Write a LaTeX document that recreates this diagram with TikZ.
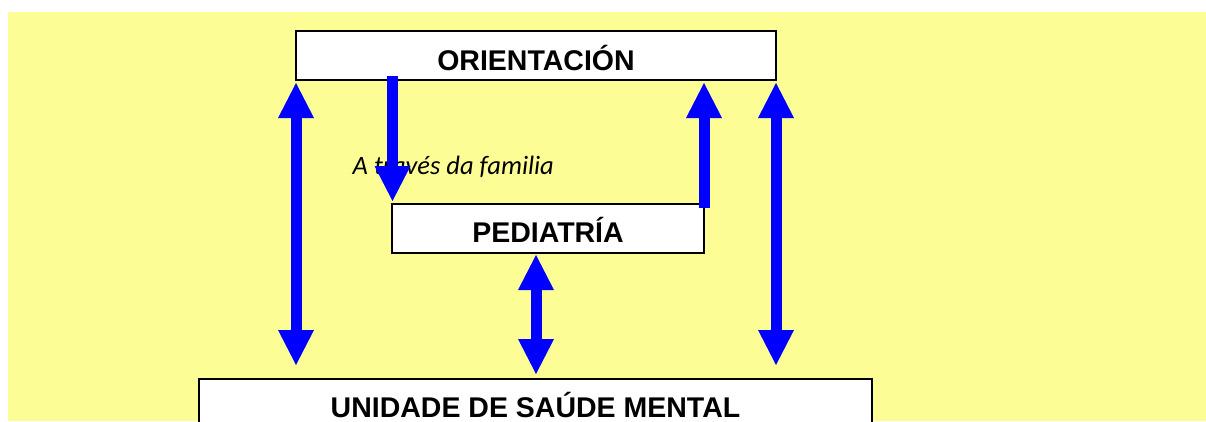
\documentclass[tikz,border=0pt]{standalone}
\usepackage{fontspec}
\setmainfont{Liberation Sans}
\newfontfamily\carl{Carlito}
\usetikzlibrary{arrows.meta,calc}
\definecolor{bgyellow}{RGB}{253,253,150}
\definecolor{arrowblue}{RGB}{0,0,255}
\begin{document}
\begin{tikzpicture}[x=1pt,y=-1pt,
  box/.style={draw=black,line width=1.5pt,fill=white,inner sep=0pt,outer sep=0pt,
    text depth=0pt,font=\fontsize{28.5}{30}\selectfont\bfseries},
  tipA/.tip={Triangle[width=36pt,length=35pt,line width=0pt]},
  onearrow/.style={draw=arrowblue,line width=11pt,-tipA},
  twoarrow/.style={draw=arrowblue,line width=11pt,tipA-tipA}]
\useasboundingbox (0,0) rectangle (1206,421);
\fill[bgyellow] (8,12) rectangle (1206,421);
\node[box,minimum width=480pt,minimum height=49pt,text height=30.4pt] (ori) at (536,55.5) {ORIENTACIÓN};
\node[box,minimum width=312pt,minimum height=49pt,text height=27.6pt] (ped) at (548,228.5) {PEDIATRÍA};
\node[box,minimum width=673pt,minimum height=58pt,text height=19pt] (usm) at (535.5,408) {UNIDADE DE SAÚDE MENTAL};
\node[anchor=base west,inner sep=0pt,font=\carl\itshape\fontsize{26.5}{28}\selectfont] (via) at (352.5,174.5) {A través da familia};
\draw[twoarrow] ($(ori.south west)+(0,3)$) -- ($(ori.south west |- usm.north)+(0,-14)$);
\draw[twoarrow] ($(ori.south east)+(0,3)$) -- ($(ori.south east |- usm.north)+(0,-14)$);
\draw[onearrow] ($(ped.north west |- ori.south)+(0.5,-4)$) -- ($(ped.north west)+(0.5,-3)$);
\draw[onearrow] ($(ped.north east)+(0,4)$) -- ($(ped.north east |- ori.south)+(0,3)$);
\draw[twoarrow] ($(usm.north |- ped.south)+(0.5,2)$) -- ($(usm.north)+(0.5,-5)$);
\end{tikzpicture}
\end{document}
